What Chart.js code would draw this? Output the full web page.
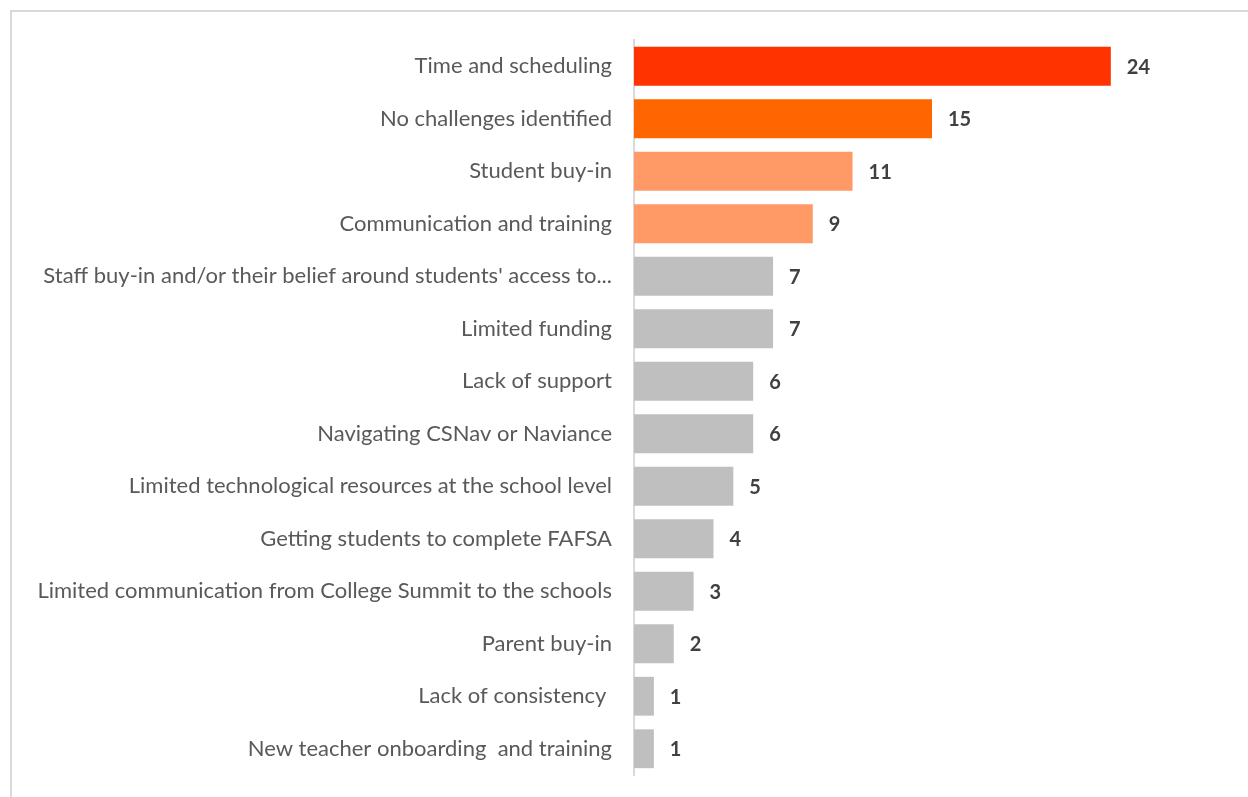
<!DOCTYPE html>
<html>
<head>
<meta charset="utf-8">
<script src="https://cdn.jsdelivr.net/npm/chart.js@4"></script>
<style>
    html, body { margin: 0; padding: 0; background: #ffffff; overflow: hidden; }
    #wrap { position: relative; width: 1248px; height: 797px; }
    #frame {
        position: absolute; left: 10px; top: 10px; width: 1300px; height: 900px;
        border-left: 2px solid #d9d9d9; border-top: 2px solid #d9d9d9;
    }
    #chart { position: absolute; left: 0; top: 0; }
</style>
</head>
<body>
<div id="wrap">
    <div id="frame"></div>
    <canvas id="chart" width="1248" height="797"></canvas>
</div>
<script>
const challengeLabels = [
    'Time and scheduling',
    'No challenges identified',
    'Student buy-in',
    'Communication and training',
    "Staff buy-in and/or their belief around students' access to...",
    'Limited funding',
    'Lack of support',
    'Navigating CSNav or Naviance',
    'Limited technological resources at the school level',
    'Getting students to complete FAFSA',
    'Limited communication from College Summit to the schools',
    'Parent buy-in',
    'Lack of consistency ',
    'New teacher onboarding  and training'
];

const mentionCounts = [24, 15, 11, 9, 7, 7, 6, 6, 5, 4, 3, 2, 1, 1];

const barColors = [
    '#ff3300', '#ff6600', '#ff9966', '#ff9966',
    '#bfbfbf', '#bfbfbf', '#bfbfbf', '#bfbfbf', '#bfbfbf',
    '#bfbfbf', '#bfbfbf', '#bfbfbf', '#bfbfbf', '#bfbfbf'
];

// writes each count just past the end of its bar
const barValueLabels = {
    id: 'barValueLabels',
    afterDatasetsDraw(chart) {
        const { ctx } = chart;
        const meta = chart.getDatasetMeta(0);
        const values = chart.data.datasets[0].data;

        ctx.save();
        ctx.font = 'bold 20px Lato, sans-serif';
        ctx.fillStyle = '#404040';
        ctx.textAlign = 'left';
        ctx.textBaseline = 'middle';
        meta.data.forEach((bar, index) => {
            ctx.fillText(String(values[index]), bar.x + 16, bar.y + 1);
        });
        ctx.restore();
    }
};

const canvasElement = document.getElementById('chart');

new Chart(canvasElement, {
    type: 'bar',
    data: {
        labels: challengeLabels,
        datasets: [
            {
                data: mentionCounts,
                backgroundColor: barColors,
                categoryPercentage: 1,
                barPercentage: 0.74
            }
        ]
    },
    options: {
        responsive: false,
        animation: false,
        indexAxis: 'y',
        layout: {
            padding: { top: 40, bottom: 22, left: 0, right: 18 }
        },
        plugins: {
            legend: { display: false },
            tooltip: { enabled: false }
        },
        scales: {
            x: {
                display: false,
                min: 0,
                max: 30
            },
            y: {
                grid: { display: false, drawTicks: false },
                border: { display: true, color: '#d9d9d9', width: 2 },
                ticks: {
                    padding: 22,
                    color: '#595959',
                    font: { family: 'Lato, sans-serif', size: 22 }
                },
                afterFit(scale) {
                    // fixed label column; no extra room above or below the axis
                    scale.width = 634;
                    scale.paddingTop = 0;
                    scale.paddingBottom = 0;
                }
            }
        }
    },
    plugins: [barValueLabels]
});
</script>
</body>
</html>
